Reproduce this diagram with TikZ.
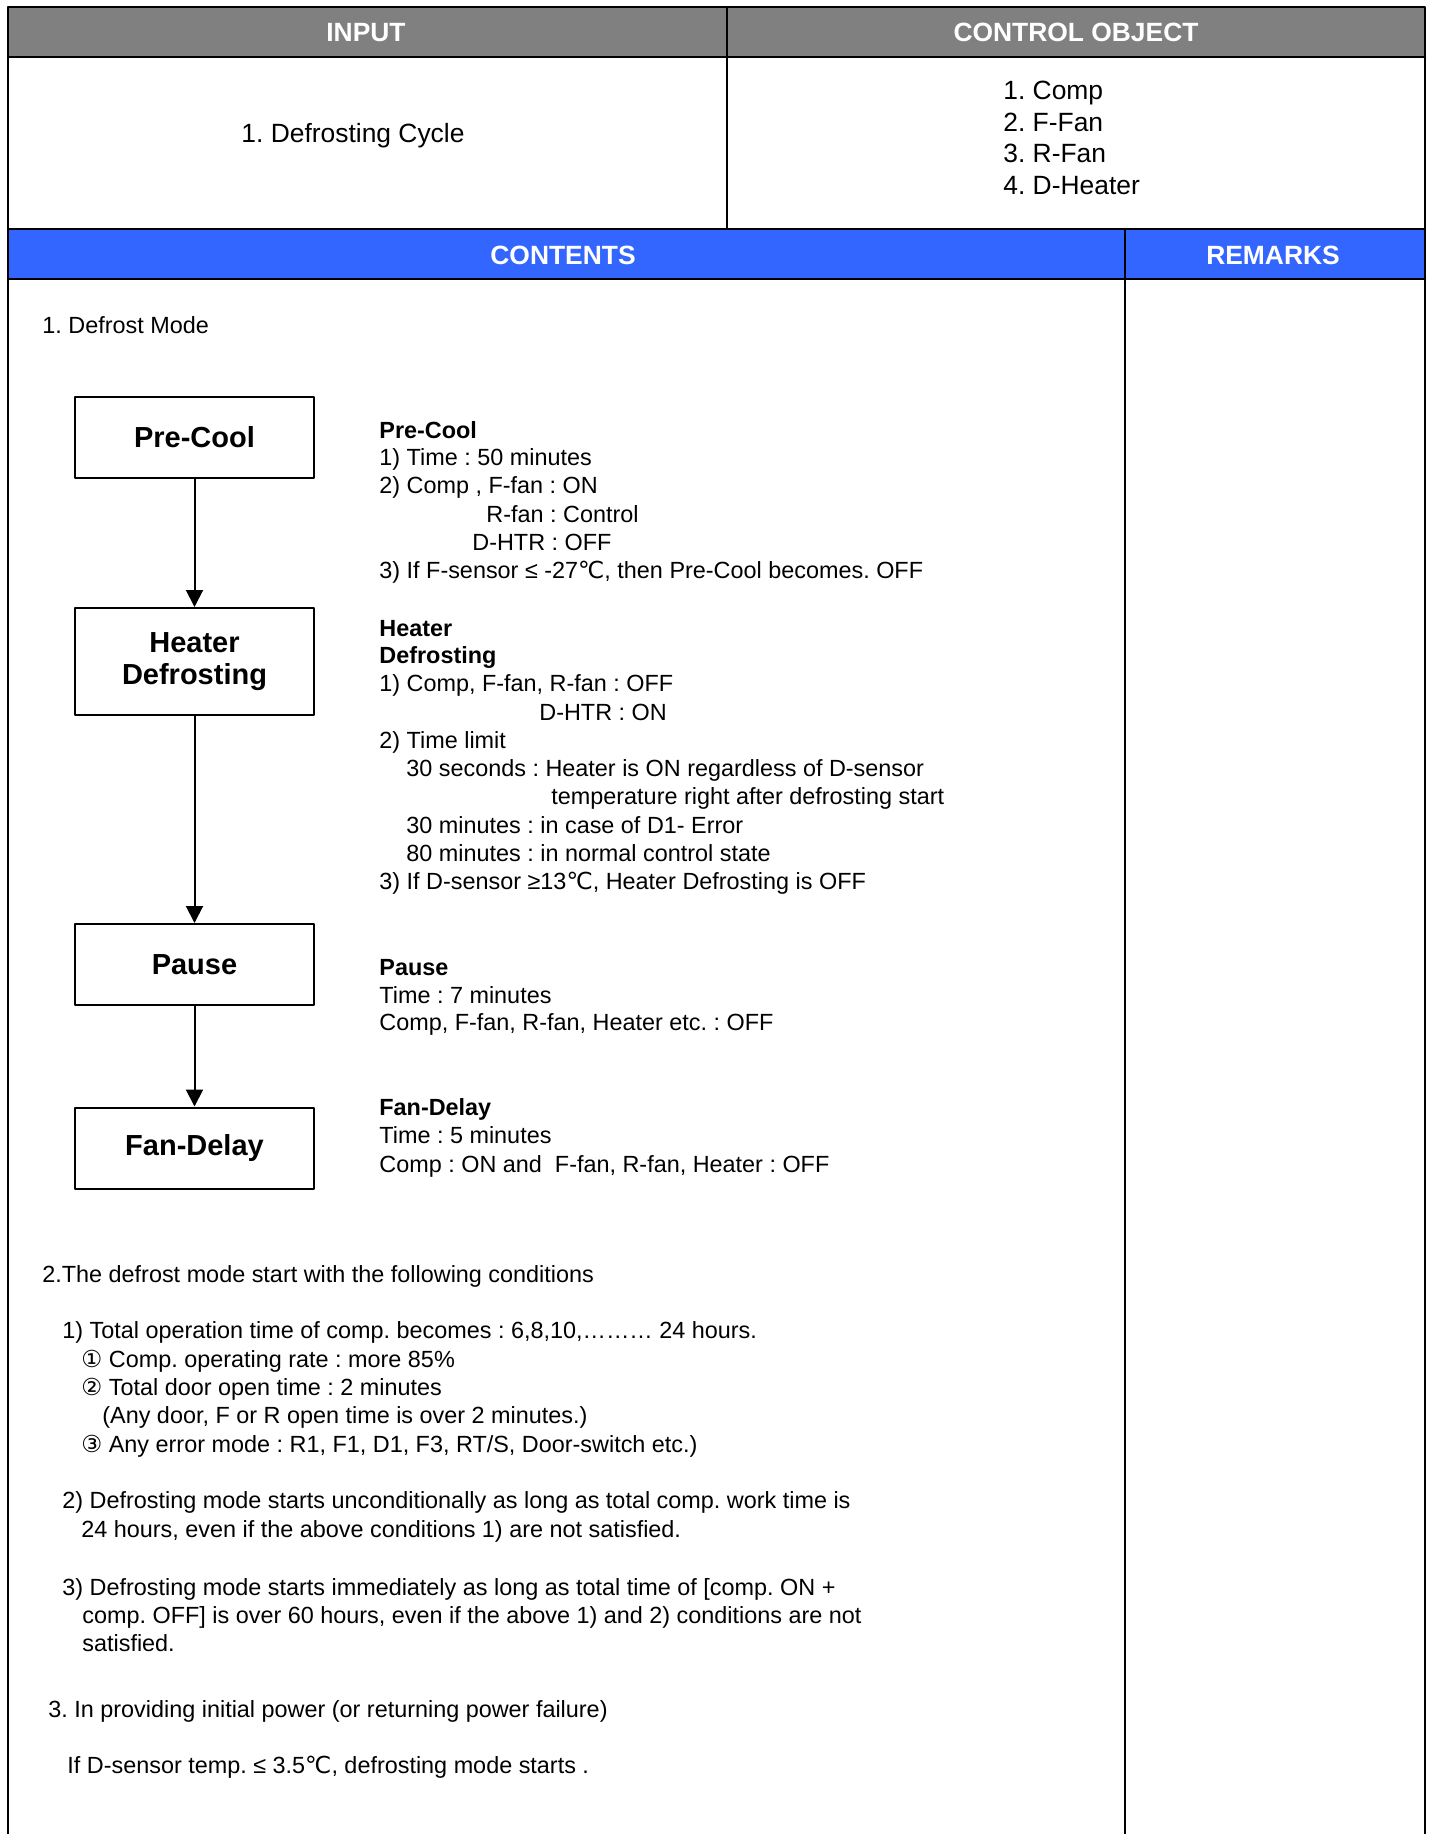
\documentclass[tikz,border=0pt]{standalone}
\usepackage{fontspec}
\setmainfont{Liberation Sans}
\newfontfamily\dvfont{DejaVu Sans}
\usetikzlibrary{arrows.meta}
\frenchspacing

\definecolor{hdgray}{HTML}{808080}
\definecolor{hdblue}{HTML}{3366FF}
\newcommand{\degc}{{\dvfont ℃}}
\newcommand{\circno}[1]{{\dvfont #1}}

\begin{document}
\begin{tikzpicture}[line cap=round,line join=round,x=0.5pt,y=-0.5pt,
  >={Triangle[length=8.5pt,width=8.5pt]},
  head/.style={anchor=base,inner sep=0pt,text=white,font=\bfseries\fontsize{13.2pt}{16pt}\selectfont},
  cell/.style={anchor=base west,inner sep=0pt,font=\fontsize{13.2pt}{16pt}\selectfont},
  body/.style={anchor=base west,inner sep=0pt,font=\fontsize{11.7pt}{14pt}\selectfont},
  stage/.style={draw,line width=1pt,minimum width=119.5pt,minimum height=40.5pt,align=center,
    font=\bfseries\fontsize{14.5pt}{16pt}\selectfont},
  flow/.style={->,line width=1pt}]
\useasboundingbox (0,0) rectangle (1430,1834);

% table frame
\fill[hdgray] (8,7) rectangle (1425,57);
\fill[hdblue] (8,229) rectangle (1425,279);
\draw[line width=0.75pt] (8,1834) -- (8,7) -- (1425,7) -- (1425,1834);
\draw[line width=1.25pt] (8,57) -- (1425,57);
\draw[line width=1.25pt] (8,229) -- (1425,229);
\draw[line width=1.25pt] (8,279) -- (1425,279);
\draw[line width=0.75pt] (727,7) -- (727,229);
\draw[line width=0.75pt] (1125,229) -- (1125,1834);

% headers
\node[head] (hinput) at (366,42) {INPUT};
\node[head] (hobject) at (1076,42) {CONTROL OBJECT};
\node[head] (hcontents) at (563,265) {CONTENTS};
\node[head] (hremarks) at (1273,265) {REMARKS};

\node[cell,anchor=base] (incycle) at (353,143) {1. Defrosting Cycle};
\node[cell] (obj1) at (1003,100) {1. Comp};
\node[cell] (obj2) at (1003,132) {2. F-Fan};
\node[cell] (obj3) at (1003,163) {3. R-Fan};
\node[cell] (obj4) at (1003,195) {4. D-Heater};

% defrost mode
\node[body] (mode) at (42,334) {1. Defrost Mode};

\node[stage] (precool) at (194.5,437.5) {Pre-Cool};
\node[stage,minimum height=53.5pt] (heater) at (194.5,661.5) {Heater\\Defrosting};
\node[stage] (pause) at (194.5,964.5) {Pause};
\node[stage] (fandelay) at (194.5,1148) {Fan-Delay};

\draw[flow] (precool) -- (heater);
\draw[flow] (heater) -- (pause);
\draw[flow] (pause) -- (fandelay);

% pre-cool
\node[body] (pc0) at (379,438) {\textbf{Pre-Cool}};
\node[body] (pc1) at (379,466) {1) Time : 50 minutes};
\node[body] (pc2) at (379,494) {2) Comp , F-fan : ON};
\node[body] (pc3) at (486,522) {R-fan : Control};
\node[body] (pc4) at (472,550) {D-HTR : OFF};
\node[body] (pc5) at (379,578) {3) If F-sensor ≤ -27\degc, then Pre-Cool becomes. OFF};

% heater defrosting
\node[body] (hd0) at (379,636) {\textbf{Heater}};
\node[body] (hd1) at (379,663) {\textbf{Defrosting}};
\node[body] (hd2) at (379,691) {1) Comp, F-fan, R-fan : OFF};
\node[body] (hd3) at (539,720) {D-HTR : ON};
\node[body] (hd4) at (379,748) {2) Time limit};
\node[body] (hd5) at (406,776) {30 seconds : Heater is ON regardless of D-sensor};
\node[body] (hd6) at (551,804) {temperature right after defrosting start};
\node[body] (hd7) at (406,833) {30 minutes : in case of D1- Error};
\node[body] (hd8) at (406,861) {80 minutes : in normal control state};
\node[body] (hd9) at (379,889) {3) If D-sensor ≥13\degc, Heater Defrosting is OFF};

% pause
\node[body] (pa0) at (379,975) {\textbf{Pause}};
\node[body] (pa1) at (379,1003) {Time : 7 minutes};
\node[body] (pa2) at (379,1030) {Comp, F-fan, R-fan, Heater etc. : OFF};

% fan-delay
\node[body] (fd0) at (379,1115) {\textbf{Fan-Delay}};
\node[body] (fd1) at (379,1143) {Time : 5 minutes};
\node[body] (fd2) at (379,1172) {Comp : ON and\ \ F-fan, R-fan, Heater : OFF};

% start conditions
\node[body] (cond) at (42,1282) {2.The defrost mode start with the following conditions};
\node[body] (c1) at (62,1338) {1) Total operation time of comp. becomes : 6,8,10,……… 24 hours.};
\node[body] (c1a) at (81,1367) {\circno{①} Comp. operating rate : more 85\%};
\node[body] (c1b) at (81,1395) {\circno{②} Total door open time : 2 minutes};
\node[body] (c1c) at (102,1423) {(Any door, F or R open time is over 2 minutes.)};
\node[body] (c1d) at (81,1452) {\circno{③} Any error mode : R1, F1, D1, F3, RT/S, Door-switch etc.)};
\node[body] (c2a) at (62,1508) {2) Defrosting mode starts unconditionally as long as total comp. work time is};
\node[body] (c2b) at (81,1537) {24 hours, even if the above conditions 1) are not satisfied.};
\node[body] (c3a) at (62,1595) {3) Defrosting mode starts immediately as long as total time of [comp. ON +};
\node[body] (c3b) at (82,1623) {comp. OFF] is over 60 hours, even if the above 1) and 2) conditions are not};
\node[body] (c3c) at (82,1651) {satisfied.};

% initial power
\node[body] (pwr) at (48,1717) {3. In providing initial power (or returning power failure)};
\node[body] (pwr1) at (67,1773) {If D-sensor temp. ≤ 3.5\degc, defrosting mode starts .};
\end{tikzpicture}
\end{document}
